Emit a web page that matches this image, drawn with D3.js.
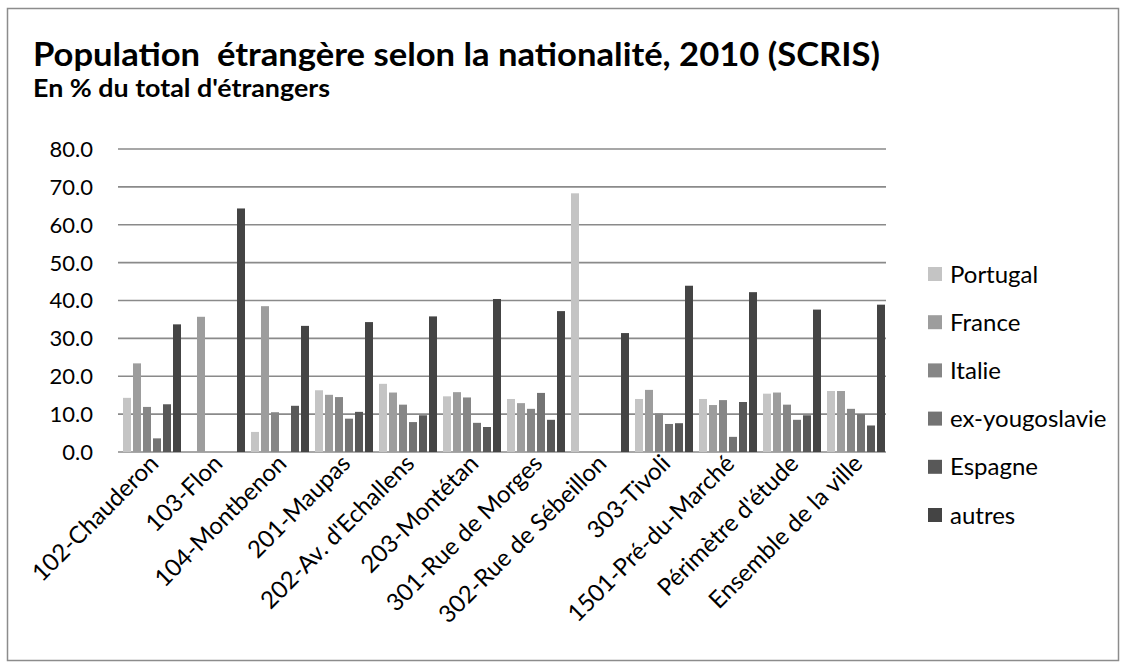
<!DOCTYPE html>
<html>
<head>
<meta charset="utf-8">
<script src="https://cdn.jsdelivr.net/npm/d3@7"></script>
<style>
  body { margin: 0; background: #fff; }
  svg { display: block; font-family: Lato, "Open Sans", sans-serif; }
</style>
</head>
<body>
<div id="chart"></div>
<script>
// quartiers (x axis)
const categories = [
    "102-Chauderon", "103-Flon", "104-Montbenon", "201-Maupas",
    "202-Av. d'Echallens", "203-Montétan", "301-Rue de Morges",
    "302-Rue de Sébeillon", "303-Tivoli", "1501-Pré-du-Marché",
    "Périmètre d'étude", "Ensemble de la ville"
];

const seriesNames = ["Portugal", "France", "Italie", "ex-yougoslavie", "Espagne", "autres"];

// % du total d'étrangers
const portugal = [14.3, 0, 5.3, 16.3, 18.0, 14.7, 14.0, 68.3, 14.0, 14.0, 15.4, 16.1];
const france   = [23.4, 35.7, 38.5, 15.1, 15.7, 15.8, 12.9, 0, 16.4, 12.4, 15.7, 16.1];
const italie   = [11.9, 0, 10.5, 14.5, 12.5, 14.4, 11.4, 0, 10.2, 13.7, 12.5, 11.4];
const exYougo  = [3.6, 0, 0, 8.8, 7.9, 7.7, 15.6, 0, 7.4, 4.0, 8.5, 10.0];
const espagne  = [12.6, 0, 12.2, 10.6, 9.7, 6.6, 8.5, 0, 7.6, 13.2, 9.7, 7.0];
const autres   = [33.7, 64.3, 33.3, 34.3, 35.8, 40.4, 37.2, 31.4, 43.9, 42.2, 37.6, 38.9];

const yTicks = [0, 10, 20, 30, 40, 50, 60, 70, 80];
const colors = ["#c4c4c4", "#9d9d9d", "#868686", "#737373", "#585858", "#444444"];

const seriesValues = [portugal, france, italie, exYougo, espagne, autres];

const width = 1123;
const height = 664;
const margin = { top: 149, right: 235, bottom: 212, left: 120 }; // plot area 120..888 x 149..452

const svg = d3.select("#chart")
    .append("svg")
    .attr("width", width)
    .attr("height", height);

// outer frame
svg.append("rect")
    .attr("x", 7.5)
    .attr("y", 8.5)
    .attr("width", 1111)
    .attr("height", 652)
    .attr("fill", "white")
    .attr("stroke", "#8c8c8c")
    .attr("stroke-width", 1.5);

// titles
svg.append("text")
    .attr("x", 33)
    .attr("y", 66)
    .text("Population  étrangère selon la nationalité, 2010 (SCRIS)")
    .attr("font-size", "32px")
    .attr("font-weight", "bold")
    .attr("fill", "#000")
    .attr("textLength", 847)
    .attr("lengthAdjust", "spacingAndGlyphs")
    .style("white-space", "pre");

svg.append("text")
    .attr("x", 33)
    .attr("y", 97)
    .text("En % du total d'étrangers")
    .attr("font-size", "25px")
    .attr("font-weight", "bold")
    .attr("fill", "#000")
    .attr("textLength", 297)
    .attr("lengthAdjust", "spacingAndGlyphs");

const x0 = d3.scaleBand()
    .domain(categories)
    .range([margin.left, width - margin.right])
    .paddingInner(0.0625)
    .paddingOuter(0.03125);

const x1 = d3.scaleBand()
    .domain(seriesNames)
    .range([0, x0.bandwidth()])
    .paddingInner(0.2)
    .paddingOuter(0.1);

const y = d3.scaleLinear()
    .domain([0, 80])
    .range([height - margin.bottom, margin.top]);

// gridlines
svg.append("g")
    .selectAll("line")
    .data(yTicks)
    .enter()
    .append("line")
    .attr("x1", margin.left - 2)
    .attr("x2", width - margin.right - 2)
    .attr("y1", d => y(d))
    .attr("y2", d => y(d))
    .attr("stroke", "#8a8a8a")
    .attr("stroke-width", 1.6);

// y tick labels
svg.append("g")
    .selectAll("text")
    .data(yTicks)
    .enter()
    .append("text")
    .attr("x", 93)
    .attr("y", d => y(d))
    .attr("dy", "0.36em")
    .attr("text-anchor", "end")
    .text(d => d.toFixed(1))
    .attr("font-size", "22px")
    .attr("fill", "#000");

// bars
const rows = categories.map((c, i) => ({
    name: c,
    values: seriesNames.map((s, j) => ({ series: s, value: seriesValues[j][i], color: colors[j] }))
}));

const groups = svg.append("g")
    .selectAll("g")
    .data(rows)
    .enter()
    .append("g")
    .attr("transform", d => `translate(${x0(d.name)},0)`);

groups.selectAll("rect")
    .data(d => d.values.filter(v => v.value > 0))
    .enter()
    .append("rect")
    .attr("x", d => x1(d.series))
    .attr("y", d => y(d.value))
    .attr("width", x1.bandwidth())
    .attr("height", d => y(0) - y(d.value))
    .attr("fill", d => d.color);

// x labels, rotated
svg.append("g")
    .selectAll("text")
    .data(categories)
    .enter()
    .append("text")
    .attr("transform", d => `translate(${x0(d) + x0.bandwidth() / 2 + 2},${y(0) + 7}) rotate(-45)`)
    .attr("text-anchor", "end")
    .attr("dy", "0.35em")
    .text(d => d)
    .attr("font-size", "24px")
    .attr("fill", "#000");

// legend
const legend = svg.append("g")
    .attr("transform", "translate(928, 267)");

seriesNames.forEach((s, i) => {
    legend.append("rect")
        .attr("x", 0)
        .attr("y", i * 48.2)
        .attr("width", 14)
        .attr("height", 14)
        .attr("fill", colors[i]);

    legend.append("text")
        .attr("x", 22)
        .attr("y", i * 48.2 + 7)
        .attr("dy", "0.36em")
        .text(s)
        .attr("font-size", "24px")
        .attr("fill", "#000");
});
</script>
</body>
</html>
